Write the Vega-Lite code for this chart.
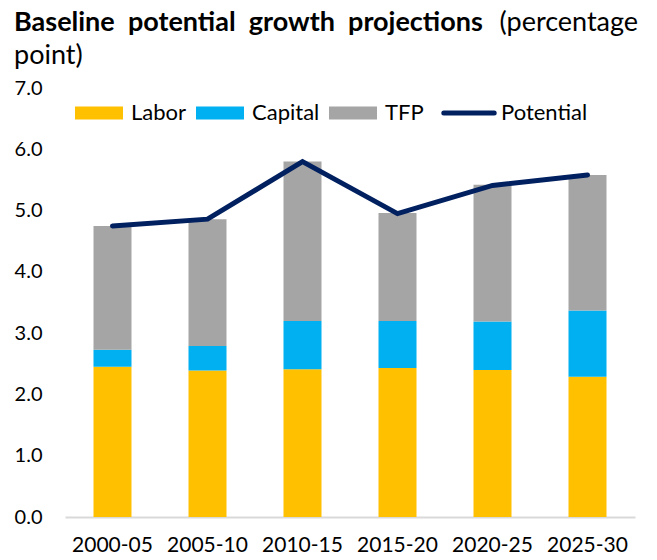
{
  "$schema": "https://vega.github.io/schema/vega-lite/v6.json",
  "width": 570,
  "height": 429,
  "autosize": "none",
  "padding": {"left": 65, "top": 88, "right": 22, "bottom": 43},
  "background": "white",
  "config": {"font": "Lato", "view": {"stroke": null}},
  "title": {
    "text": "Baseline \u00a0potential \u00a0growth \u00a0projections",
    "subtitle": "point)",
    "anchor": "start",
    "frame": "group",
    "dx": -51,
    "dy": 80,
    "fontSize": 27,
    "fontWeight": "bold",
    "color": "black",
    "subtitleFontSize": 27,
    "subtitleColor": "black",
    "subtitlePadding": 6,
    "offset": 18
  },
  "datasets": {
    "bars": [
      {"period": "2000-05", "component": "Labor", "ord": 1, "value": 2.45},
      {"period": "2000-05", "component": "Capital", "ord": 2, "value": 0.28},
      {"period": "2000-05", "component": "TFP", "ord": 3, "value": 2.02},
      {"period": "2005-10", "component": "Labor", "ord": 1, "value": 2.39},
      {"period": "2005-10", "component": "Capital", "ord": 2, "value": 0.40},
      {"period": "2005-10", "component": "TFP", "ord": 3, "value": 2.07},
      {"period": "2010-15", "component": "Labor", "ord": 1, "value": 2.41},
      {"period": "2010-15", "component": "Capital", "ord": 2, "value": 0.79},
      {"period": "2010-15", "component": "TFP", "ord": 3, "value": 2.60},
      {"period": "2015-20", "component": "Labor", "ord": 1, "value": 2.43},
      {"period": "2015-20", "component": "Capital", "ord": 2, "value": 0.77},
      {"period": "2015-20", "component": "TFP", "ord": 3, "value": 1.76},
      {"period": "2020-25", "component": "Labor", "ord": 1, "value": 2.40},
      {"period": "2020-25", "component": "Capital", "ord": 2, "value": 0.79},
      {"period": "2020-25", "component": "TFP", "ord": 3, "value": 2.23},
      {"period": "2025-30", "component": "Labor", "ord": 1, "value": 2.29},
      {"period": "2025-30", "component": "Capital", "ord": 2, "value": 1.08},
      {"period": "2025-30", "component": "TFP", "ord": 3, "value": 2.21}
    ],
    "potential": [
      {"period": "2000-05", "component": "Potential", "value": 4.75},
      {"period": "2005-10", "component": "Potential", "value": 4.86},
      {"period": "2010-15", "component": "Potential", "value": 5.80},
      {"period": "2015-20", "component": "Potential", "value": 4.95},
      {"period": "2020-25", "component": "Potential", "value": 5.41},
      {"period": "2025-30", "component": "Potential", "value": 5.58}
    ]
  },
  "encoding": {
    "x": {
      "field": "period",
      "type": "nominal",
      "sort": null,
      "scale": {"paddingInner": 0.6, "paddingOuter": 0.3},
      "axis": {
        "title": null,
        "labelAngle": 0,
        "labelFontSize": 21,
        "labelColor": "black",
        "ticks": false,
        "domainColor": "#D9D9D9",
        "domainWidth": 2,
        "labelPadding": 17
      }
    },
    "y": {
      "field": "value",
      "type": "quantitative",
      "scale": {"domain": [0, 7], "nice": false},
      "axis": {
        "values": [0, 1, 2, 3, 4, 5, 6, 7],
        "format": ".1f",
        "labelFontSize": 20,
        "labelColor": "black",
        "labelPadding": 23,
        "domain": false,
        "ticks": false,
        "grid": false,
        "title": "(percentage",
        "titleAngle": 0,
        "titleAlign": "left",
        "titleBaseline": "alphabetic",
        "titleX": 434,
        "titleY": -58,
        "titleFontSize": 27,
        "titleFontWeight": "normal",
        "titleColor": "black"
      }
    },
    "color": {
      "field": "component",
      "type": "nominal",
      "scale": {
        "domain": ["Labor", "Capital", "TFP", "Potential"],
        "range": ["#FFC000", "#00B0F0", "#A5A5A5", "#002060"]
      },
      "legend": {
        "title": null,
        "orient": "none",
        "legendX": 23,
        "legendY": 14,
        "direction": "horizontal",
        "labelFontSize": 22,
        "labelColor": "black",
        "labelOffset": 21,
        "columnPadding": 9,
        "symbolSize": 2304,
        "encode": {
          "symbols": {
            "update": {
              "shape": {"signal": "datum.value === 'Potential' ? 'M-1.05,0L1.05,0' : 'M-1,-0.27L1,-0.27L1,0.27L-1,0.27Z'"},
              "strokeWidth": {"signal": "datum.value === 'Potential' ? 5 : 0"},
              "stroke": {"signal": "datum.value === 'Potential' ? '#002060' : 'transparent'"},
              "strokeCap": {"value": "round"},
              "opacity": {"value": 1}
            }
          }
        }
      }
    }
  },
  "layer": [
    {
      "data": {"name": "bars"},
      "mark": {"type": "bar"},
      "encoding": {
        "order": {"field": "ord", "type": "quantitative"}
      }
    },
    {
      "data": {"name": "potential"},
      "mark": {"type": "line", "strokeWidth": 5, "strokeCap": "round"}
    }
  ]
}
